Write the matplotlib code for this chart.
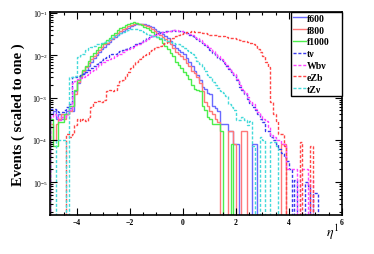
import numpy as np
import matplotlib
matplotlib.use('Agg')
import matplotlib.pyplot as plt
from matplotlib.ticker import MultipleLocator, LogLocator, NullFormatter

plt.rcParams['font.family'] = ['Liberation Serif', 'DejaVu Serif']
plt.rcParams['mathtext.fontset'] = 'stix'

# 0.1 wide bins from -5 to 6, one row per unit of eta
edges = np.linspace(-5.0, 6.0, 111)

f600 = [
    4.0e-4, 4.8e-4, 3.2e-4, 4.0e-4, 3.2e-4, 4.0e-4, 4.8e-4, 5.6e-4, 4.8e-4, 1.4e-3,
    2.2e-3, 3.0e-3, 3.8e-3, 4.6e-3, 5.6e-3, 7.0e-3, 8.5e-3, 1.0e-2, 1.2e-2, 1.4e-2,
    1.6e-2, 1.8e-2, 2.1e-2, 2.4e-2, 2.7e-2, 3.1e-2, 3.4e-2, 3.8e-2, 4.2e-2, 4.5e-2,
    4.9e-2, 5.2e-2, 5.4e-2, 5.5e-2, 5.5e-2, 5.4e-2, 5.2e-2, 5.0e-2, 4.6e-2, 4.2e-2,
    3.8e-2, 3.5e-2, 3.2e-2, 2.8e-2, 2.5e-2, 2.2e-2, 1.75e-2, 1.5e-2, 1.35e-2, 1.2e-2,
    1.05e-2, 8.5e-3, 7.0e-3, 5.5e-3, 4.2e-3, 3.4e-3, 2.6e-3, 1.8e-3, 1.6e-3, 1.3e-3,
    1.2e-3, 6.4e-4, 5.6e-4, 4.8e-4, 2.4e-4, 2.4e-4, 2.4e-4, 1.6e-4, 1.6e-4, 8e-5,
    8e-5, 0, 0, 0, 0, 0, 8e-5, 8e-5, 0, 0,
    0, 0, 0, 0, 0, 0, 0, 0, 0, 0,
    0, 0, 0, 0, 0, 0, 0, 0, 0, 0,
    0, 0, 0, 0, 0, 0, 0, 0, 0, 0,
]
f800 = [
    2.4e-4, 1.0e-4, 2.4e-4, 3.2e-4, 4.0e-4, 3.2e-4, 4.0e-4, 4.8e-4, 6.4e-4, 1.2e-3,
    2.4e-3, 3.2e-3, 4.2e-3, 5.2e-3, 6.5e-3, 8.0e-3, 9.5e-3, 1.15e-2, 1.35e-2, 1.55e-2,
    1.8e-2, 2.0e-2, 2.3e-2, 2.6e-2, 3.0e-2, 3.3e-2, 3.7e-2, 4.1e-2, 4.5e-2, 4.9e-2,
    5.3e-2, 5.6e-2, 5.7e-2, 5.6e-2, 5.4e-2, 5.2e-2, 4.9e-2, 4.6e-2, 4.2e-2, 3.8e-2,
    3.4e-2, 3.1e-2, 2.7e-2, 2.4e-2, 2.1e-2, 1.8e-2, 1.45e-2, 1.2e-2, 1.05e-2, 9.5e-3,
    8.0e-3, 6.5e-3, 5.5e-3, 4.2e-3, 3.8e-3, 3.0e-3, 2.2e-3, 1.4e-3, 8.0e-4, 6.4e-4,
    4.8e-4, 4.0e-4, 3.2e-4, 2.6e-4, 0, 0, 0, 1.6e-4, 1.6e-4, 8e-5,
    0, 0, 1.6e-4, 1.6e-4, 0, 0, 0, 0, 0, 0,
    0, 0, 0, 0, 0, 0, 0, 8e-5, 8e-5, 0,
    0, 0, 0, 0, 0, 0, 0, 0, 0, 0,
    0, 0, 0, 0, 0, 0, 0, 0, 0, 0,
]
f1000 = [
    3.2e-4, 7e-5, 7e-5, 2.6e-4, 2.6e-4, 4.0e-4, 4.0e-4, 6.3e-4, 6.3e-4, 1.5e-3,
    2.6e-3, 3.4e-3, 4.5e-3, 5.5e-3, 7.5e-3, 9.5e-3, 1.15e-2, 1.35e-2, 1.6e-2, 1.8e-2,
    2.0e-2, 2.3e-2, 2.6e-2, 3.0e-2, 3.4e-2, 3.9e-2, 4.3e-2, 4.7e-2, 5.2e-2, 5.6e-2,
    5.9e-2, 6.0e-2, 5.8e-2, 5.5e-2, 5.1e-2, 4.7e-2, 4.3e-2, 3.9e-2, 3.5e-2, 3.1e-2,
    2.7e-2, 2.4e-2, 2.0e-2, 1.7e-2, 1.4e-2, 1.15e-2, 9.5e-3, 7.0e-3, 6.0e-3, 5.0e-3,
    4.0e-3, 3.4e-3, 2.8e-3, 2.0e-3, 1.6e-3, 1.5e-3, 1.4e-3, 6.3e-4, 5.0e-4, 3.5e-4,
    3.2e-4, 2.4e-4, 2.4e-4, 2.4e-4, 1.6e-4, 0, 0, 0, 8e-5, 0,
    0, 0, 0, 0, 0, 0, 0, 0, 0, 0,
    0, 0, 0, 0, 0, 0, 0, 0, 0, 0,
    0, 0, 0, 0, 0, 0, 0, 0, 0, 0,
    0, 0, 0, 0, 0, 0, 0, 0, 0, 0,
]
tnu = [
    5.4e-4, 5.4e-4, 5.0e-4, 4.5e-4, 4.5e-4, 5.0e-4, 6.0e-4, 7.0e-4, 3.0e-3, 3.1e-3,
    3.2e-3, 3.4e-3, 3.6e-3, 4.0e-3, 4.5e-3, 5.0e-3, 5.6e-3, 6.3e-3, 7.0e-3, 7.8e-3,
    8.5e-3, 9.2e-3, 1.0e-2, 1.05e-2, 1.1e-2, 1.2e-2, 1.25e-2, 1.35e-2, 1.4e-2, 1.5e-2,
    1.6e-2, 1.7e-2, 1.8e-2, 1.95e-2, 2.1e-2, 2.3e-2, 2.5e-2, 2.7e-2, 2.9e-2, 3.1e-2,
    3.3e-2, 3.45e-2, 3.6e-2, 3.7e-2, 3.8e-2, 3.85e-2, 3.9e-2, 3.85e-2, 3.8e-2, 3.7e-2,
    3.5e-2, 3.3e-2, 3.0e-2, 2.8e-2, 2.6e-2, 2.4e-2, 2.2e-2, 2.0e-2, 1.75e-2, 1.55e-2,
    1.35e-2, 1.15e-2, 1.0e-2, 8.8e-3, 7.6e-3, 6.5e-3, 5.6e-3, 4.8e-3, 4.1e-3, 3.4e-3,
    2.6e-3, 1.8e-3, 1.5e-3, 1.2e-3, 9.5e-4, 7.5e-4, 6.0e-4, 5.0e-4, 4.0e-4, 3.2e-4,
    2.6e-4, 1.6e-4, 1.6e-4, 1.2e-4, 1.0e-4, 8e-5, 6e-5, 5e-5, 4e-5, 3.2e-5,
    2.0e-5, 0, 1.1e-5, 0, 0, 0, 1.0e-5, 8e-6, 0, 5.5e-6,
    5.5e-6, 0, 0, 0, 0, 0, 0, 0, 0, 0,
]
wbnu = [
    3.5e-4, 4.0e-4, 3.5e-4, 3.0e-4, 3.5e-4, 3.5e-4, 4.0e-4, 5.0e-4, 2.2e-3, 2.5e-3,
    2.7e-3, 2.9e-3, 3.1e-3, 3.4e-3, 3.8e-3, 4.2e-3, 4.6e-3, 5.2e-3, 5.8e-3, 6.4e-3,
    7.0e-3, 7.6e-3, 8.2e-3, 8.8e-3, 9.4e-3, 1.0e-2, 1.1e-2, 1.2e-2, 1.3e-2, 1.4e-2,
    1.5e-2, 1.6e-2, 1.75e-2, 1.9e-2, 2.05e-2, 2.2e-2, 2.4e-2, 2.6e-2, 2.8e-2, 3.0e-2,
    3.2e-2, 3.4e-2, 3.5e-2, 3.65e-2, 3.75e-2, 3.85e-2, 3.9e-2, 3.9e-2, 3.85e-2, 3.8e-2,
    3.6e-2, 3.4e-2, 3.2e-2, 2.95e-2, 2.7e-2, 2.5e-2, 2.3e-2, 2.1e-2, 1.85e-2, 1.65e-2,
    1.45e-2, 1.25e-2, 1.1e-2, 9.5e-3, 8.2e-3, 7.0e-3, 6.0e-3, 5.0e-3, 4.3e-3, 3.6e-3,
    2.8e-3, 2.0e-3, 1.6e-3, 1.3e-3, 1.05e-3, 8.5e-4, 7.0e-4, 5.5e-4, 4.5e-4, 3.6e-4,
    3.2e-4, 2.8e-4, 2.0e-4, 1.3e-4, 1.2e-4, 1.0e-4, 1.0e-4, 8e-5, 8e-5, 2e-5,
    2e-5, 2e-5, 2e-5, 0, 2e-5, 2e-5, 2e-5, 0, 1.1e-5, 0,
    0, 0, 0, 0, 0, 0, 0, 0, 0, 0,
]
ezb = [
    0, 0, 0, 0, 0, 0, 1.4e-4, 1.2e-4, 1.4e-4, 2.2e-4,
    3.2e-4, 2.8e-4, 3.2e-4, 2.8e-4, 3.5e-4, 6.0e-4, 8.0e-4, 8.5e-4, 8.5e-4, 8.0e-4,
    9.0e-4, 1.4e-3, 1.5e-3, 1.4e-3, 1.5e-3, 2.0e-3, 2.5e-3, 2.6e-3, 3.2e-3, 4.0e-3,
    5.0e-3, 6.0e-3, 7.0e-3, 8.0e-3, 9.0e-3, 1.0e-2, 1.1e-2, 1.25e-2, 1.35e-2, 1.45e-2,
    1.55e-2, 1.65e-2, 1.8e-2, 2.0e-2, 2.2e-2, 2.4e-2, 2.6e-2, 2.8e-2, 3.0e-2, 3.2e-2,
    3.4e-2, 3.5e-2, 3.6e-2, 3.7e-2, 3.6e-2, 3.5e-2, 3.5e-2, 3.4e-2, 3.3e-2, 3.2e-2,
    3.1e-2, 3.0e-2, 3.0e-2, 2.9e-2, 2.8e-2, 2.8e-2, 2.7e-2, 2.6e-2, 2.5e-2, 2.5e-2,
    2.4e-2, 2.3e-2, 2.2e-2, 2.2e-2, 2.1e-2, 2.0e-2, 1.9e-2, 1.7e-2, 1.4e-2, 1.2e-2,
    9.5e-3, 7.0e-3, 5.2e-3, 8.0e-4, 4.0e-4, 2.8e-4, 1.4e-4, 1.4e-4, 7e-5, 0,
    0, 0, 0, 0, 9e-5, 0, 0, 0, 7e-5, 0,
    0, 0, 0, 0, 0, 0, 0, 0, 0, 0,
]
tznu = [
    0, 0, 1.0e-4, 1.0e-4, 1.0e-4, 1.0e-4, 0, 3.0e-3, 3.0e-3, 3.2e-3,
    9.0e-3, 1.0e-2, 1.1e-2, 1.3e-2, 1.5e-2, 1.6e-2, 1.7e-2, 1.8e-2, 1.9e-2, 2.0e-2,
    2.1e-2, 2.2e-2, 2.4e-2, 2.6e-2, 2.8e-2, 3.1e-2, 3.3e-2, 3.6e-2, 3.8e-2, 4.0e-2,
    4.1e-2, 4.2e-2, 4.1e-2, 4.0e-2, 3.8e-2, 3.5e-2, 3.2e-2, 3.0e-2, 2.9e-2, 2.8e-2,
    2.7e-2, 2.5e-2, 2.4e-2, 2.3e-2, 2.2e-2, 2.1e-2, 2.0e-2, 1.9e-2, 1.8e-2, 1.65e-2,
    1.5e-2, 1.3e-2, 1.2e-2, 1.05e-2, 9.0e-3, 7.5e-3, 6.3e-3, 5.2e-3, 4.3e-3, 3.5e-3,
    3.0e-3, 2.4e-3, 2.0e-3, 1.7e-3, 1.4e-3, 1.3e-3, 1.1e-3, 7.0e-4, 6.0e-4, 5.0e-4,
    3.0e-4, 3.0e-4, 3.5e-4, 3.0e-4, 2.2e-4, 2.8e-4, 7e-5, 0, 0, 1.2e-4,
    1.0e-4, 0, 0, 9e-5, 9e-5, 7e-5, 0, 0, 0, 0,
    0, 0, 0, 0, 0, 0, 0, 0, 0, 0,
    0, 0, 0, 0, 0, 0, 0, 0, 0, 0,
]

series = [f600, f800, f1000, tnu, wbnu, ezb, tznu]
labels = ['f600', 'f800', 'f1000', 'tν', 'Wbν', 'eZb', 'tZν']
colors = ['#6a6aff', '#ff7878', '#4cee4c', '#3a3aee', '#ff44ff', '#ff4646', '#44dada']
dash = (0, (2.2, 1.3))
styles = ['-', '-', '-', dash, dash, dash, dash]

fig = plt.figure(figsize=(3.74, 2.55), dpi=100)
ax = fig.add_axes([0.135, 0.153, 0.7794, 0.797])

floor = 1e-9  # empty bins fall below the axis like in ROOT
for vals, lab, col, ls in zip(series, labels, colors, styles):
    v = np.array(vals)
    ax.stairs(np.where(v > 0, v, floor), edges, baseline=floor,
              color=col, lw=1.0, ls=ls, label=lab)

ax.set_yscale('log')
ax.set_xlim(-5, 6)
ax.set_ylim(1.68e-6, 0.107)

ax.xaxis.set_major_locator(MultipleLocator(2))
ax.xaxis.set_minor_locator(MultipleLocator(0.5))
ax.yaxis.set_major_locator(LogLocator(base=10, numticks=12))
ax.yaxis.set_minor_locator(LogLocator(base=10, subs=np.arange(2, 10), numticks=12))
ax.yaxis.set_minor_formatter(NullFormatter())

ax.tick_params(which='both', direction='in', top=True, right=True,
               labelsize=5.5, pad=2, width=0.8)
ax.tick_params(which='major', length=5)
ax.tick_params(which='minor', length=2.5)
for lab in ax.get_xticklabels():
    lab.set_fontweight('bold')
for sp in ax.spines.values():
    sp.set_linewidth(1.2)

ax.set_ylabel('Events ( scaled to one )', fontsize=10.5, fontweight='bold')
ax.yaxis.set_label_coords(-0.088, 0.5)
fig.text(0.872, 0.07, r'$\eta^{1}$', fontsize=10)

leg = ax.legend(loc='upper left', bbox_to_anchor=(0.825, 0.0, 0.175, 1.0),
                mode='expand', borderaxespad=0,
                prop={'family': 'Liberation Serif', 'weight': 'bold', 'size': 7},
                frameon=True, fancybox=False, edgecolor='black', framealpha=1,
                handlelength=1.3, handletextpad=0.15, labelspacing=0.29, borderpad=0.2)
leg.get_frame().set_linewidth(1.0)

fig.savefig('out.png', dpi=100)
